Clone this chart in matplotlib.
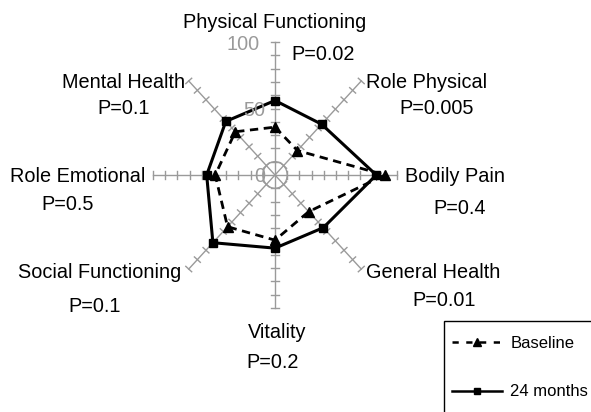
import numpy as np
import matplotlib
matplotlib.use('Agg')
import matplotlib.pyplot as plt
from matplotlib.lines import Line2D
from matplotlib.patches import Rectangle, Ellipse

plt.rcParams['font.family'] = ['Liberation Sans', 'DejaVu Sans']

categories = ['Physical Functioning', 'Role Physical', 'Bodily Pain', 'General Health',
              'Vitality', 'Social Functioning', 'Role Emotional', 'Mental Health']
p_values = ['P=0.02', 'P=0.005', 'P=0.4', 'P=0.01', 'P=0.2', 'P=0.1', 'P=0.5', 'P=0.1']
baseline = [36, 26, 90, 39, 49, 55, 49, 46]
months24 = [56, 54, 83, 56, 55, 72, 56, 57]
tick_labels = ['0', '50', '100']

W, H = 591, 412
cx, cy = 275, 175          # centre of the radar in pixels
sx, sy = 1.22, 1.33        # pixels per unit (image is a bit squashed)


def fpos(x, y):
    return x / W, 1 - y / H


fig = plt.figure(figsize=(W / 100, H / 100), dpi=100)
ax = fig.add_axes([0, 0, 1, 1])
ax.set_xlim(-cx / sx, (W - cx) / sx)
ax.set_ylim((cy - H) / sy, cy / sy)
ax.axis('off')

n = len(categories)
theta = np.arange(n) * 2 * np.pi / n
grey = '#9a9a9a'

# spokes with cross ticks every 10
for t in theta:
    dx, dy = np.sin(t), np.cos(t)
    ax.plot([0, 100 * dx], [0, 100 * dy], color=grey, lw=1, zorder=1)
    # perpendicular in pixel space, back to data units
    px, py = dx * sx, dy * sy
    norm = np.hypot(px, py)
    qx, qy = -py / norm / sx, px / norm / sy
    for r in range(10, 101, 10):
        h = 4
        ax.plot([r * dx - h * qx, r * dx + h * qx], [r * dy - h * qy, r * dy + h * qy],
                color=grey, lw=1, zorder=1)

ax.add_patch(Ellipse((0, 0), 20, 20, fill=False, edgecolor=grey, lw=1, zorder=1))


def close(v):
    v = np.array(v + v[:1], dtype=float)
    t = np.append(theta, theta[0])
    return v * np.sin(t), v * np.cos(t)


bx, by = close(baseline)
ax.plot(bx, by, color='black', lw=2, ls=(0, (3, 2)), zorder=3)
ax.plot(bx[:-1], by[:-1], ls='none', marker='^', ms=7, color='black', zorder=4)
mx, my = close(months24)
ax.plot(mx, my, color='black', lw=2.2, zorder=3)
ax.plot(mx[:-1], my[:-1], ls='none', marker='s', ms=6, color='black', zorder=4)

# radial scale labels
fs = 14.3
for lab, (x, y) in zip(tick_labels, [(260, 176), (254, 110), (243, 44)]):
    fig.text(*fpos(x, y), lab, color=grey, fontsize=fs, ha='center', va='center')

name_pos = [(275, 22), (427, 82), (455, 177), (433, 273),
            (277, 332), (100, 273), (78, 177), (124, 82)]
p_pos = [(323, 55), (437, 108), (460, 208), (444, 300),
         (273, 363), (95, 307), (68, 205), (124, 108)]
for name, pv, a, b in zip(categories, p_values, name_pos, p_pos):
    fig.text(*fpos(*a), name, fontsize=fs, ha='center', va='center')
    fig.text(*fpos(*b), pv, fontsize=fs, ha='center', va='center')

# legend box running off the bottom-right corner
fig.patches.append(Rectangle(fpos(444, 420), (W + 10 - 444) / W, (420 - 321) / H,
                             transform=fig.transFigure, fill=False,
                             edgecolor='black', lw=1))
handles = [Line2D([], [], color='black', lw=1.8, ls=(0, (2.5, 3)), marker='^', ms=6),
           Line2D([], [], color='black', lw=1.8, marker='s', ms=5)]
fig.legend(handles, ['Baseline', '24 months'], loc='upper left',
           bbox_to_anchor=fpos(452, 336), frameon=False, fontsize=12,
           handlelength=3.0, handletextpad=0.5, labelspacing=2.0,
           borderaxespad=0, borderpad=0)

fig.savefig('out.png', dpi=100)
